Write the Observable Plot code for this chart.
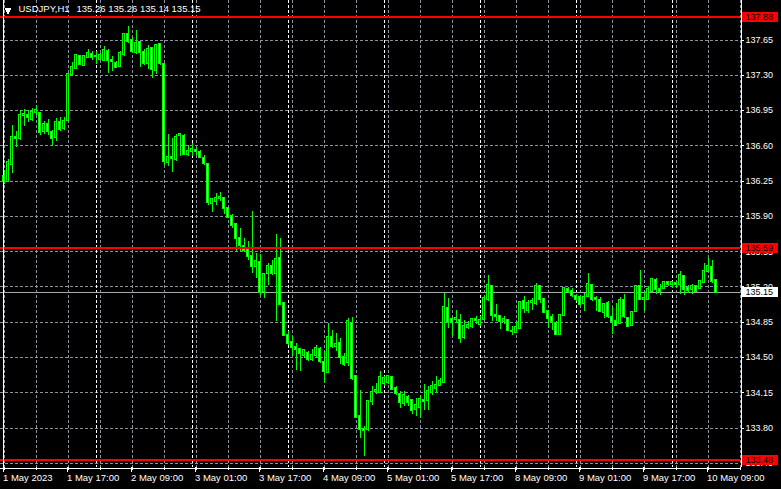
<!DOCTYPE html>
<html><head><meta charset="utf-8">
<script src="https://cdn.jsdelivr.net/npm/d3@7"></script>
<script src="https://cdn.jsdelivr.net/npm/@observablehq/plot@0.6"></script>
<style>
html,body{margin:0;padding:0;background:#000;overflow:hidden}
#chart{width:781px;height:489px}
</style></head><body><div id="chart"></div>
<script>
const symbol = "USDJPY,H1";
// hourly bars from 1 May 2023 01:00 to 10 May 2023 10:00 (weekend skipped)
const open = [136.294,136.245,136.417,136.685,136.675,136.906,136.899,136.866,136.933,136.923,
136.741,136.807,136.734,136.681,136.833,136.774,136.850,137.310,137.369,137.485,
137.396,137.475,137.508,137.488,137.455,137.448,137.541,137.445,137.419,137.386,
137.511,137.706,137.650,137.528,137.627,137.525,137.419,137.561,137.346,137.601,
137.409,136.433,136.486,136.466,136.698,136.691,136.516,136.542,136.556,136.536,
136.476,136.417,136.030,136.046,136.073,136.073,135.974,135.904,135.821,135.676,
135.606,135.560,135.507,135.401,135.444,135.153,135.335,135.401,135.335,135.484,
135.037,134.720,134.651,134.598,134.575,134.525,134.541,134.485,134.525,134.581,
134.452,134.350,134.700,134.608,134.641,134.498,134.449,134.839,134.307,133.913,
133.787,133.787,134.062,134.161,134.155,134.244,134.250,134.300,134.188,134.138,
134.045,134.105,134.072,133.986,134.006,134.078,134.072,134.155,134.194,134.224,
134.254,134.988,134.882,134.879,134.872,134.697,134.799,134.806,134.879,134.832,
134.879,135.080,135.203,134.912,134.905,134.862,134.866,134.763,134.750,134.789,
135.054,134.971,135.047,135.038,135.203,135.071,134.955,134.899,134.839,134.730,
134.915,135.176,135.160,135.110,135.094,135.034,135.104,135.219,135.087,135.064,
134.948,135.038,134.899,134.856,134.839,135.064,134.889,134.816,134.955,135.203,
135.071,135.080,135.160,135.269,135.176,135.180,135.243,135.226,135.236,135.226,
135.302,135.186,135.176,135.203,135.180,135.246,135.358,135.395,135.260];
const high = [136.351,136.460,136.797,136.741,136.946,136.959,136.946,136.972,137.005,136.929,
136.840,136.866,136.757,136.873,136.880,136.880,137.319,137.429,137.508,137.495,
137.501,137.554,137.541,137.541,137.518,137.584,137.551,137.485,137.435,137.534,
137.706,137.782,137.673,137.749,137.640,137.551,137.594,137.574,137.601,137.607,
137.419,136.714,136.675,136.714,136.724,136.708,136.602,136.625,136.582,136.549,
136.509,136.427,136.079,136.129,136.139,136.086,135.987,135.914,135.831,135.782,
135.680,135.650,135.950,135.534,135.527,135.335,135.434,135.467,135.725,135.682,
135.044,134.756,134.707,134.641,134.591,134.581,134.558,134.581,134.624,134.601,
134.558,134.839,134.773,134.740,134.690,134.541,134.889,134.899,134.317,134.168,
133.814,134.072,134.211,134.244,134.360,134.310,134.326,134.310,134.211,134.161,
134.161,134.121,134.078,134.095,134.128,134.234,134.217,134.260,134.310,134.293,
135.137,135.087,134.899,134.971,134.922,134.872,134.856,134.889,134.905,134.905,
135.104,135.309,135.209,135.028,134.912,134.905,134.872,134.806,134.856,135.054,
135.104,135.061,135.087,135.236,135.219,135.087,134.971,134.922,134.862,134.922,
135.193,135.193,135.186,135.127,135.120,135.137,135.335,135.226,135.104,135.094,
135.038,135.054,134.998,135.038,135.094,135.127,134.895,134.961,135.209,135.368,
135.153,135.209,135.285,135.285,135.229,135.252,135.252,135.259,135.252,135.358,
135.312,135.213,135.229,135.209,135.269,135.434,135.484,135.467,135.260];
const low = [136.218,136.238,136.327,136.582,136.658,136.794,136.830,136.840,136.899,136.701,
136.714,136.701,136.592,136.642,136.747,136.757,136.840,137.303,137.359,137.396,
137.386,137.462,137.442,137.409,137.442,137.442,137.319,137.336,137.369,137.376,
137.485,137.617,137.518,137.508,137.376,137.402,137.353,137.270,137.310,137.402,
136.410,136.394,136.337,136.443,136.493,136.509,136.493,136.493,136.509,136.483,
136.410,136.013,135.940,136.013,136.046,135.914,135.881,135.782,135.550,135.550,
135.540,135.461,135.335,135.285,135.120,135.087,135.219,135.318,134.856,135.021,
134.713,134.624,134.508,134.376,134.360,134.492,134.459,134.465,134.492,134.442,
134.244,134.343,134.591,134.558,134.426,134.409,134.409,134.277,133.897,133.698,
133.516,133.764,134.029,134.138,134.145,134.211,134.237,134.171,134.121,133.996,
134.012,134.012,133.930,133.913,133.897,133.979,133.979,134.128,134.145,134.211,
134.244,134.789,134.707,134.839,134.641,134.674,134.780,134.789,134.823,134.806,
134.872,135.054,134.856,134.856,134.783,134.823,134.756,134.723,134.737,134.783,
134.938,134.938,134.971,135.021,135.038,134.938,134.789,134.773,134.723,134.723,
134.905,135.137,135.094,135.054,135.021,134.955,135.094,135.054,134.955,134.948,
134.889,134.889,134.730,134.806,134.823,134.889,134.796,134.806,134.948,135.061,
134.961,135.071,135.153,135.127,135.120,135.170,135.203,135.186,135.186,135.127,
135.120,135.137,135.127,135.147,135.170,135.236,135.345,135.236,135.140];
const close = [136.245,136.433,136.685,136.671,136.906,136.913,136.886,136.933,136.946,136.731,
136.807,136.741,136.675,136.833,136.764,136.843,137.303,137.379,137.498,137.409,
137.491,137.518,137.475,137.491,137.501,137.548,137.448,137.432,137.376,137.518,
137.700,137.634,137.534,137.617,137.525,137.419,137.551,137.362,137.591,137.419,
136.443,136.486,136.476,136.681,136.708,136.516,136.542,136.565,136.542,136.489,
136.427,136.040,136.063,136.079,136.089,135.980,135.888,135.808,135.683,135.616,
135.560,135.507,135.408,135.457,135.143,135.328,135.408,135.335,135.474,135.031,
134.723,134.641,134.601,134.581,134.541,134.565,134.482,134.525,134.591,134.459,
134.360,134.697,134.614,134.634,134.502,134.432,134.856,134.293,133.906,133.787,
133.774,134.062,134.155,134.171,134.303,134.293,134.310,134.178,134.145,134.052,
134.121,134.052,133.973,134.022,134.088,134.068,134.161,134.211,134.227,134.260,
134.998,134.862,134.849,134.889,134.690,134.806,134.822,134.879,134.866,134.872,
135.087,135.219,134.915,134.905,134.862,134.879,134.773,134.756,134.796,135.047,
134.988,135.038,135.054,135.203,135.071,134.948,134.889,134.856,134.730,134.912,
135.186,135.153,135.114,135.080,135.028,135.100,135.229,135.080,135.071,134.955,
135.028,134.905,134.856,134.816,135.061,134.905,134.806,134.948,135.203,135.071,
135.087,135.170,135.279,135.170,135.160,135.246,135.226,135.243,135.226,135.309,
135.176,135.163,135.209,135.160,135.252,135.358,135.408,135.252,135.150];

const levels = [137.88, 135.59, 133.48];          // red horizontal lines
const yTicks = [137.65,137.30,136.95,136.60,136.25,135.90,135.55,135.20,134.85,134.50,134.15,133.80,133.45];
const xTickLabels = ["1 May 2023","1 May 17:00","2 May 09:00","3 May 01:00","3 May 17:00","4 May 09:00",
                     "5 May 01:00","5 May 17:00","8 May 09:00","9 May 01:00","9 May 17:00","10 May 09:00"];
const barsPerLabel = 16, barsPerGrid = 8;
const daySeparators = [23, 47, 71, 95, 119, 143, 167]; // bar index of each 00:00

const bars = open.map((o, i) => ({i, o, h: high[i], l: low[i], c: close[i]}));
const last = bars[bars.length - 1];
const lastPrice = last.c;
const xLabelIdx = xTickLabels.map((_, k) => k * barsPerLabel);
const xGridIdx = d3.range(0, 185, barsPerGrid);

const xDomain = [-0.75, 184.25];
const yDomain = [133.404, 138.047];
const LIME = "#00ff00", GRID = "#8a94a0";
const font = "'Liberation Sans', Arial, sans-serif";

const chart = Plot.plot({
  width: 781, height: 489,
  marginTop: 0, marginLeft: 0, marginRight: 41, marginBottom: 22,
  style: {background: "#000", color: "#fff", fontFamily: font, fontSize: "9px", shapeRendering: "crispEdges"},
  x: {type: "linear", domain: xDomain, range: [0.5, 740.5]},
  y: {type: "linear", domain: yDomain, range: [467.5, -0.5]},
  marks: [
    Plot.gridY(yTicks, {stroke: GRID, strokeOpacity: 1, strokeDasharray: "3,2"}),
    Plot.gridX(xGridIdx, {stroke: GRID, strokeOpacity: 1, strokeDasharray: "3,2"}),
    Plot.ruleX(daySeparators, {stroke: "#fff", strokeDasharray: "3,2"}),
    Plot.ruleY([lastPrice], {stroke: "#a8a8a8"}),
    Plot.ruleX(bars, {x: "i", y1: "l", y2: "h", stroke: LIME}),
    Plot.rect(bars.filter(d => d.c >= d.o), {x1: d => d.i - 0.25, x2: d => d.i + 0.25, y1: "o", y2: "c",
      fill: "#000", stroke: LIME, insetTop: -0.5, insetBottom: -0.5}),
    Plot.rect(bars.filter(d => d.c < d.o), {x1: d => d.i - 0.25, x2: d => d.i + 0.25, y1: "o", y2: "c",
      fill: "#fff", stroke: LIME, insetTop: -0.5, insetBottom: -0.5}),
    Plot.ruleY(levels, {stroke: "#ff0000", strokeWidth: 2}),
    // frame: left, right, bottom
    Plot.ruleX([-0.25, xDomain[1]], {stroke: "#fff"}),
    Plot.ruleY([yDomain[0]], {stroke: "#fff"}),
    // axes
    Plot.axisY(yTicks, {anchor: "right", tickSize: 3, tickPadding: 2, stroke: "#fff", fill: "#fff",
      tickFormat: d => d.toFixed(2), fontSize: 9, label: null}),
    Plot.axisX(xGridIdx, {anchor: "bottom", tickSize: 3, stroke: "#fff", tickFormat: () => "", label: null}),
    Plot.axisX(xLabelIdx, {anchor: "bottom", tickSize: 5, tickPadding: 2, stroke: "#fff", fill: "#fff",
      textAnchor: "start", dx: -1, fontSize: 9.5, label: null,
      tickFormat: d => xTickLabels[d / barsPerLabel]}),
    // price labels on the right scale
    Plot.ruleY(levels, {y: d => d, x1: 184.5, x2: 193.5, stroke: "#ff0000", strokeWidth: 10}),
    Plot.text(levels, {y: d => d, x: xDomain[1], dx: 4.5, textAnchor: "start", fill: "#000",
      text: d => d.toFixed(2), fontSize: 9}),
    Plot.ruleY([lastPrice], {y: d => d, x1: 184.5, x2: 193.5, stroke: "#fff", strokeWidth: 10}),
    Plot.text([lastPrice], {y: d => d, x: xDomain[1], dx: 4.5, textAnchor: "start", fill: "#000",
      text: d => d.toFixed(2), fontSize: 9}),
    // header
    Plot.dot([0], {frameAnchor: "top-left", dx: 7.5, dy: 10, symbol: "triangle", rotate: 180, r: 2.6,
      fill: "#fff", stroke: null}),
    Plot.text([symbol], {frameAnchor: "top-left", dx: 18, dy: 5, lineAnchor: "top", textAnchor: "start",
      fill: "#fff", fontSize: 9.5}),
    Plot.text([[last.o, last.h, last.l, last.c].map(v => v.toFixed(2)).join(" ")],
      {frameAnchor: "top-left", dx: 76, dy: 5, lineAnchor: "top", textAnchor: "start", fill: "#fff", fontSize: 9.5})
  ]
});
document.getElementById("chart").appendChild(chart);
</script></body></html>
